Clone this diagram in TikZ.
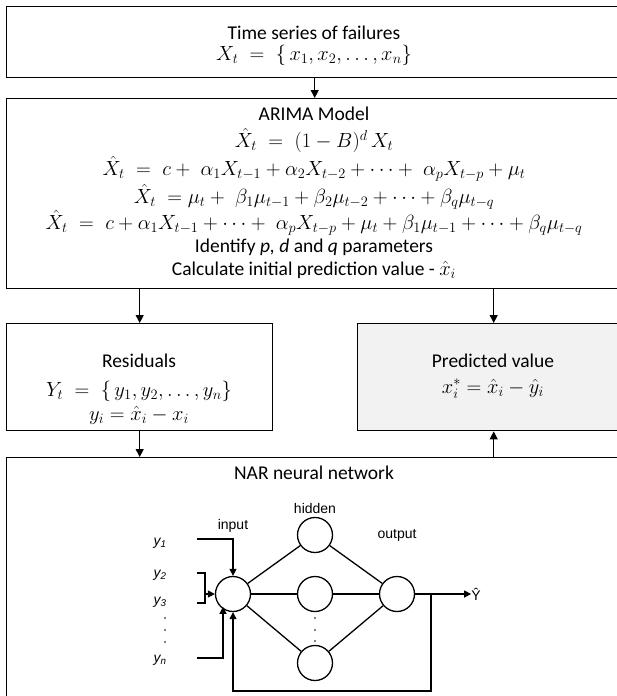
\RequirePackage{fix-cm}
\documentclass[tikz,border=0pt]{standalone}
\usepackage{fontspec}
\setmainfont{Carlito}
\newfontfamily\arialf{Liberation Sans}
\newcommand{\mm}[1]{{\fontsize{20.5}{24}\selectfont$#1$}}
\newcommand{\tightlines}{\lineskiplimit-100pt\relax}
\usetikzlibrary{arrows.meta}
\tikzset{
  box/.style={draw, line width=1.4pt, inner sep=0pt, anchor=north west},
  multi/.style={inner sep=0pt, align=center, anchor=north},
  txt/.style={inner sep=0pt, font=\fontsize{19.5}{23}\selectfont},
  arr/.style={line width=1pt, -{Triangle[length=8pt,width=8pt]}},
  net/.style={line width=1.3pt},
  netarr/.style={line width=1.3pt, -{Triangle[length=7pt,width=7pt]}},
  neuron/.style={circle, draw, line width=1.3pt, minimum size=35pt, inner sep=0pt},
  lbl/.style={font=\arialf\fontsize{14}{16}\selectfont, inner sep=0pt},
  ylbl/.style={font=\arialf\itshape\fontsize{14}{16}\selectfont, inner sep=0pt},
  dotm/.style={circle, fill, inner sep=0pt, minimum size=1.6pt},
}
\begin{document}
\begin{tikzpicture}[x=1pt,y=-1pt]
\useasboundingbox (0,0) rectangle (617,696);
\clip (0,0) rectangle (617,696);
% boxes
\node[box, minimum width=616pt, minimum height=71pt] (ts) at (6,6) {};
\node[box, minimum width=616pt, minimum height=190pt] (arima) at (6,98) {};
\node[box, minimum width=266pt, minimum height=107pt] (res) at (6,323) {};
\node[box, fill={rgb,255:red,242;green,242;blue,242}, minimum width=272pt, minimum height=107pt] (pred) at (357,323) {};
\node[box, minimum width=616pt, minimum height=260pt] (nar) at (6,457) {};
% texts
\node[multi, font={\fontsize{19.5}{21.5}\selectfont\tightlines}] (tstxt) at (314,23.8)
  {\rule{0pt}{15pt}Time series of failures\\
   \mm{X_t \;=\; \{\,x_1, x_2, \dots, x_n\}}};
\node[multi, font={\fontsize{19.5}{27}\selectfont\tightlines}] (arimatxt) at (314,105.7)
  {\rule{0pt}{15pt}ARIMA Model\\
   \mm{\hat{X}_t \;=\; (1-B)^d\, X_t}\\[1pt]
   \mm{\hat{X}_t \;=\; c +\; \alpha_1 X_{t-1} + \alpha_2 X_{t-2} + \cdots +\; \alpha_p X_{t-p} + \mu_t}\\[1pt]
   \mm{\hat{X}_t \;= \mu_t +\; \beta_1\mu_{t-1} + \beta_2\mu_{t-2} + \cdots + \beta_q\mu_{t-q}}\\[-1pt]
   \mm{\hat{X}_t \;=\; c + \alpha_1 X_{t-1} + \cdots +\; \alpha_p X_{t-p} + \mu_t + \beta_1\mu_{t-1} + \cdots + \beta_q\mu_{t-q}}\\[-4pt]
   Identify \textit{p, d} and \textit{q} parameters\\[-4pt]
   Calculate initial prediction value - \mm{\hat{x}_i}};
\node[multi, font={\fontsize{19.5}{29.2}\selectfont\tightlines}] (restxt) at (139,351.8)
  {\rule{0pt}{15pt}Residuals\\
   \mm{Y_t \;=\; \{\,y_1, y_2, \dots, y_n\}}\\[-5.2pt]
   \mm{y_i = \hat{x}_i - x_i}};
\node[multi, font={\fontsize{19.5}{26}\selectfont\tightlines}] (predtxt) at (493,351.8)
  {\rule{0pt}{15pt}Predicted value\\
   \mm{x_i^* = \hat{x}_i - \hat{y}_i}};
\node[txt] (nt) at (314,473) {NAR neural network};
% flow arrows
\draw[arr] (ts.south) -- (arima.north);
\draw[arr] (arima.south -| res.north) -- (res.north);
\draw[arr] (arima.south -| pred.north) -- (pred.north);
\draw[arr] (res.south) -- (res.south |- nar.north);
\draw[arr] (pred.south |- nar.north) -- (pred.south);
% network
\node[neuron] (in) at (233,594) {};
\node[neuron] (h1) at (315,535) {};
\node[neuron] (h2) at (315,594) {};
\node[neuron] (h3) at (315,663) {};
\node[neuron] (out) at (397,594) {};
\draw[net] (in) -- (h1);
\draw[net] (in) -- (h2);
\draw[net] (in) -- (h3);
\draw[net] (h1) -- (out);
\draw[net] (h2) -- (out);
\draw[net] (h3) -- (out);
\node[lbl] (linput) at (233,526) {input};
\node[lbl] (lhidden) at (315,508) {hidden};
\node[lbl] (loutput) at (397,535) {output};
\node[lbl] (yhat) at (476,594) {Ŷ};
\coordinate (split) at (431,594);
\coordinate (fb1) at (431,691);
\coordinate (fb2) at (233,691);
\draw[netarr] (out.east) -- (yhat.west);
\draw[netarr] (split) -- (fb1) -- (fb2) -- (in.south);
% inputs
\node[ylbl] (y1) at (160,543) {y\textsubscript{1}};
\node[ylbl] (y2) at (160,575) {y\textsubscript{2}};
\node[ylbl] (y3) at (160,602) {y\textsubscript{3}};
\node[ylbl] (yn) at (160,660) {y\textsubscript{n}};
\node[dotm] (d1) at (165,618) {};
\node[dotm] (d2) at (165,630) {};
\node[dotm] (d3) at (165,642) {};
\node[dotm] (hd1) at (315,618) {};
\node[dotm] (hd2) at (315,630) {};
\node[dotm] (hd3) at (315,641) {};
\coordinate (c1a) at (197,539);
\coordinate (c1b) at (233,539);
\draw[netarr] (c1a) -- (c1b) -- (in.north);
\coordinate (b1) at (197,573);
\coordinate (b2) at (205,573);
\coordinate (b3) at (205,603);
\coordinate (b4) at (197,603);
\coordinate (bm) at (205,594);
\draw[net] (b1) -- (b2) -- (b3) -- (b4);
\draw[netarr] (bm) -- (in.west);
\coordinate (n1) at (197,658);
\coordinate (n2) at (223,658);
\draw[netarr] (n1) -- (n2) -- (in.south west -| n2);
\end{tikzpicture}
\end{document}
